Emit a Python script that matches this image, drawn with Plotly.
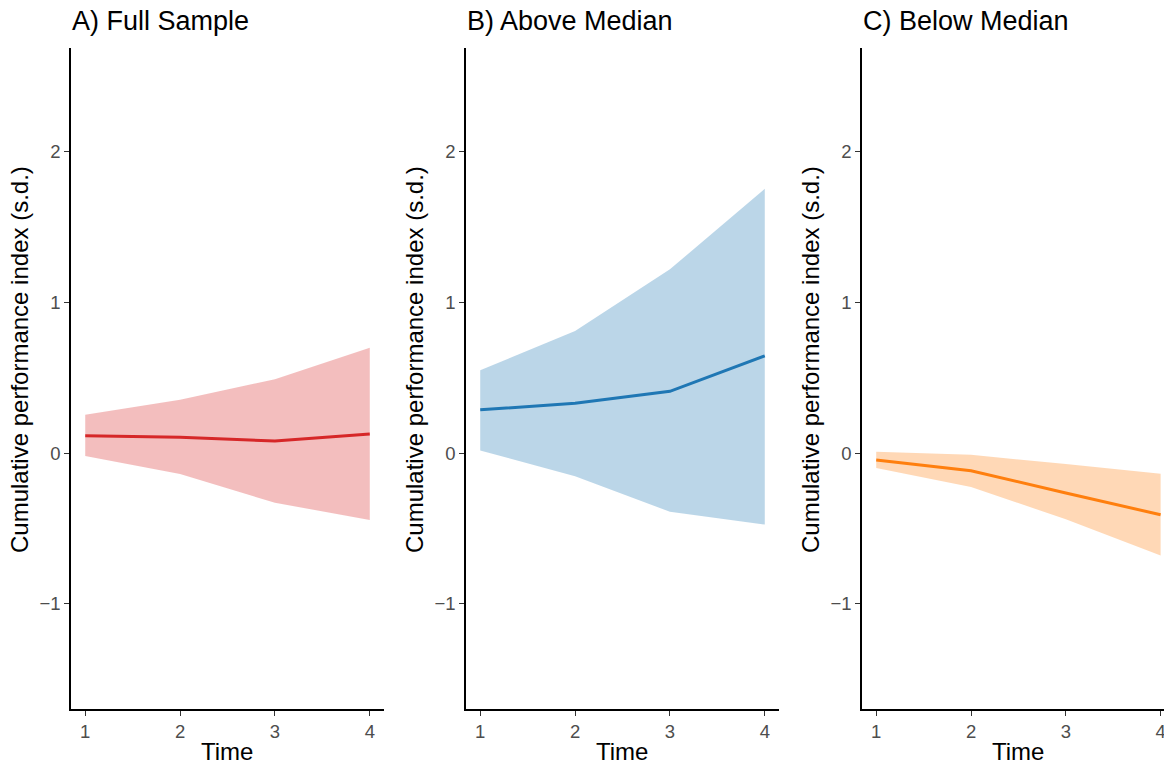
import plotly.graph_objects as go

time = [1, 2, 3, 4]

full_est = [0.115, 0.105, 0.080, 0.127]
full_lo = [-0.020, -0.140, -0.330, -0.445]
full_hi = [0.255, 0.354, 0.490, 0.700]

above_est = [0.287, 0.330, 0.410, 0.645]
above_lo = [0.017, -0.155, -0.390, -0.475]
above_hi = [0.550, 0.810, 1.220, 1.755]

below_est = [-0.047, -0.118, -0.265, -0.410]
below_lo = [-0.100, -0.225, -0.440, -0.680]
below_hi = [0.008, -0.012, -0.073, -0.138]

titles = ["A) Full Sample", "B) Above Median", "C) Below Median"]
line_colors = ["#D62728", "#1F77B4", "#FF7F0E"]
fill_colors = ["rgba(214,39,40,0.3)", "rgba(31,119,180,0.3)", "rgba(255,127,14,0.3)"]
y_ticks = [-1, 0, 1, 2]
x_ticks = [1, 2, 3, 4]

OFF = 8  # page body margin
W, H = 1172 - OFF, 768 - OFF
TOP, BOT = 48 - OFF, 709 - OFF
PH = BOT - TOP
panels_px = [(71 - OFF, 384 - OFF), (466 - OFF, 779 - OFF), (862 - OFF, 1172 - OFF)]
x_ranges = [[0.85, 4.15], [0.85, 4.15], [0.85, 4.12]]

series = [(full_est, full_lo, full_hi), (above_est, above_lo, above_hi), (below_est, below_lo, below_hi)]

fig = go.Figure()
FONT = "Liberation Sans, Arial, sans-serif"

for i, (est, lo, hi) in enumerate(series):
    xa = "x" if i == 0 else f"x{i+1}"
    ya = "y" if i == 0 else f"y{i+1}"
    fig.add_trace(go.Scatter(x=time, y=lo, mode="lines", line=dict(width=0, color=fill_colors[i]),
                             xaxis=xa, yaxis=ya, showlegend=False, hoverinfo="skip"))
    fig.add_trace(go.Scatter(x=time, y=hi, mode="lines", line=dict(width=0, color=fill_colors[i]),
                             fill="tonexty", fillcolor=fill_colors[i],
                             xaxis=xa, yaxis=ya, showlegend=False, hoverinfo="skip"))
    fig.add_trace(go.Scatter(x=time, y=est, mode="lines", line=dict(width=3, color=line_colors[i]),
                             xaxis=xa, yaxis=ya, showlegend=False))

layout = dict(
    width=W, height=H,
    margin=dict(l=0, r=0, t=TOP, b=H - BOT),
    paper_bgcolor="white", plot_bgcolor="white",
    font=dict(family=FONT, color="black"),
    annotations=[],
)

axis_common_x = dict(showgrid=False, zeroline=False, showline=True, linecolor="black", linewidth=1.6,
                     ticks="outside", ticklen=5, tickwidth=1.3, tickcolor="#333333",
                     tickvals=x_ticks, tickfont=dict(size=18.5, color="#4D4D4D", family=FONT))
axis_common_y = dict(showgrid=False, zeroline=False, showline=True, linecolor="black", linewidth=1.6,
                     ticks="outside", ticklen=5, tickwidth=1.3, tickcolor="#333333",
                     tickvals=y_ticks, tickfont=dict(size=18.5, color="#4D4D4D", family=FONT),
                     range=[-1.7, 2.69])


def py(screen_y):
    return (BOT - (screen_y - OFF)) / PH


for i, (l, r) in enumerate(panels_px):
    xk = "xaxis" if i == 0 else f"xaxis{i+1}"
    yk = "yaxis" if i == 0 else f"yaxis{i+1}"
    xa = "x" if i == 0 else f"x{i+1}"
    ya = "y" if i == 0 else f"y{i+1}"
    layout[xk] = dict(axis_common_x, domain=[l / W, r / W], range=x_ranges[i], anchor=ya)
    layout[yk] = dict(axis_common_y, domain=[0, 1], anchor=xa)
    layout["annotations"].append(dict(text=titles[i], x=(l - 1) / W, y=py(21), xref="paper", yref="paper",
                                      xanchor="left", yanchor="middle", showarrow=False,
                                      font=dict(size=27, color="black", family=FONT)))
    layout["annotations"].append(dict(text="Time", x=(l + 156) / W, y=py(751), xref="paper", yref="paper",
                                      xanchor="center", yanchor="middle", showarrow=False,
                                      font=dict(size=24, color="black", family=FONT)))
    layout["annotations"].append(dict(text="Cumulative performance index (s.d.)", x=(l - 51) / W, y=py(360),
                                      xref="paper", yref="paper", xanchor="center", yanchor="middle",
                                      textangle=-90, showarrow=False,
                                      font=dict(size=24, color="black", family=FONT)))

fig.update_layout(**layout)
fig.write_html("out.html")
